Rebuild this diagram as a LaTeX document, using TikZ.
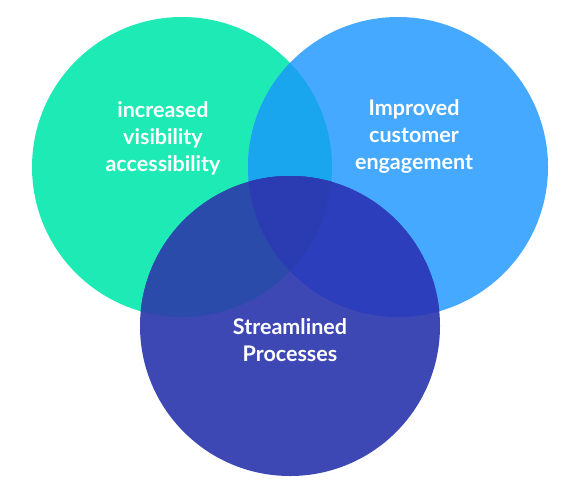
\documentclass[tikz,border=0pt]{standalone}
\usepackage{fontspec}
\setmainfont{Lato}
\definecolor{cgreen}{HTML}{1EEAB6}
\definecolor{cblue}{HTML}{45A9FF}
\definecolor{cgb}{HTML}{19A6EE}
\definecolor{cpurple}{HTML}{3E48B5}
\definecolor{cpg}{HTML}{2A4BA9}
\definecolor{cpb}{HTML}{2C3EBB}
\definecolor{cpgb}{HTML}{2B3CB3}
\tikzset{
  lbl/.style={text=white, font=\bfseries\fontsize{21.5}{27}\selectfont, align=center, inner sep=0pt}
}
\begin{document}
\begin{tikzpicture}[x=1pt,y=-1pt]
\useasboundingbox (0,0) rectangle (577,490);
\coordinate (g) at (182,167);
\coordinate (b) at (398,167);
\coordinate (p) at (290,326);
\fill[cgreen] (g) circle (150);
\fill[cblue] (b) circle (150);
\begin{scope}
  \clip (g) circle (150);
  \fill[cgb] (b) circle (150);
\end{scope}
\fill[cpurple] (p) circle (150);
\begin{scope}
  \clip (p) circle (150);
  \fill[cpg] (g) circle (150);
  \fill[cpb] (b) circle (150);
  \clip (g) circle (150);
  \fill[cpgb] (b) circle (150);
\end{scope}
\node[lbl] (tg) at (163,138) {increased\\visibility\\accessibility};
\node[lbl] (tb) at (414,136) {Improved\\customer\\engagement};
\node[lbl] (tp) at (290,340) {Streamlined\\Processes};
\end{tikzpicture}
\end{document}
